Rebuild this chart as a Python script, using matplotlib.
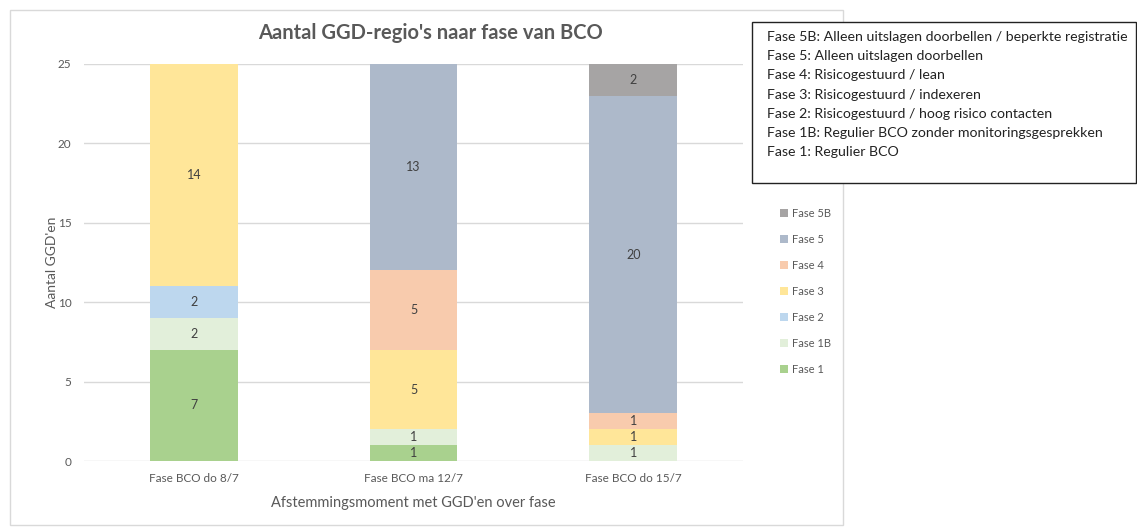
import matplotlib.pyplot as plt
from matplotlib.patches import Rectangle
import numpy as np

plt.rcParams['font.family'] = ['Lato', 'DejaVu Sans']

categories = ['Fase BCO do 8/7', 'Fase BCO ma 12/7', 'Fase BCO do 15/7']
phases = ['Fase 1', 'Fase 1B', 'Fase 2', 'Fase 3', 'Fase 4', 'Fase 5', 'Fase 5B']
fase_1 = [7, 1, 0]
fase_1b = [2, 1, 1]
fase_2 = [2, 0, 0]
fase_3 = [14, 5, 1]
fase_4 = [0, 5, 1]
fase_5 = [0, 13, 20]
fase_5b = [0, 0, 2]
series = [fase_1, fase_1b, fase_2, fase_3, fase_4, fase_5, fase_5b]
colors = ['#a9d18e', '#e2efda', '#bdd7ee', '#ffe699', '#f8cbad', '#adb9ca', '#a6a4a4']

box_lines = [
    'Fase 5B: Alleen uitslagen doorbellen / beperkte registratie',
    'Fase 5: Alleen uitslagen doorbellen',
    'Fase 4: Risicogestuurd / lean',
    'Fase 3: Risicogestuurd / indexeren',
    'Fase 2: Risicogestuurd / hoog risico contacten',
    'Fase 1B: Regulier BCO zonder monitoringsgesprekken',
    'Fase 1: Regulier BCO',
]

W, H = 1137, 528
fig = plt.figure(figsize=(W / 100, H / 100), dpi=100)
ax = fig.add_axes([84 / W, 1 - 461 / H, (743 - 84) / W, (461 - 64) / H])

# chart frame
fig.patches.append(Rectangle((10 / W, 1 - 525 / H), (843 - 10) / W, (525 - 10) / H,
                             transform=fig.transFigure, fill=False,
                             edgecolor='#d9d9d9', linewidth=1))

x = np.arange(len(categories))
bottom = np.zeros(len(categories))
handles = []
for name, vals, c in zip(phases, series, colors):
    vals = np.array(vals)
    b = ax.bar(x, vals, 0.4, bottom=bottom, color=c, label=name, zorder=2)
    handles.append(b)
    for xi, v, bt in zip(x, vals, bottom):
        if v > 0:
            ax.text(xi, bt + v / 2, str(v), ha='center', va='center',
                    fontsize=9, color='#404040')
    bottom = bottom + vals

ax.set_xlim(-0.5, 2.5)
ax.set_ylim(0, 25)
ax.set_yticks(range(0, 26, 5))
ax.set_xticks(x)
ax.set_xticklabels(categories)
ax.tick_params(length=0, labelsize=8.5, colors='#595959', pad=9)
ax.grid(axis='y', color='#d9d9d9', linewidth=1, zorder=0)
ax.set_axisbelow(True)
for s in ax.spines.values():
    s.set_visible(False)
ax.set_ylabel("Aantal GGD'en", fontsize=10, color='#595959', labelpad=0)
ax.set_xlabel('Afstemmingsmoment met GGD\'en over fase', fontsize=10.5,
              color='#595959', labelpad=8)

fig.text(430 / W, 1 - 33 / H, "Aantal GGD-regio's naar fase van BCO",
         ha='center', va='center', fontsize=14.5, fontweight='bold', color='#595959')

fig.legend(handles[::-1], phases[::-1], loc='upper left',
           bbox_to_anchor=(770 / W, 1 - 198 / H), frameon=False,
           fontsize=8, labelcolor='#595959', handlelength=0.7, handleheight=0.7,
           handletextpad=0.4, labelspacing=1.35)

# description box
fig.patches.append(Rectangle((752 / W, 1 - 183 / H), (1136 - 752) / W, (183 - 22) / H,
                             transform=fig.transFigure, fill=True, facecolor='white',
                             edgecolor='#222222', linewidth=1))
for i, line in enumerate(box_lines):
    fig.text(767 / W, 1 - (37 + i * 19.2) / H, line, ha='left', va='center',
             fontsize=10.2, color='#222222')

fig.savefig('out.png', dpi=100)
